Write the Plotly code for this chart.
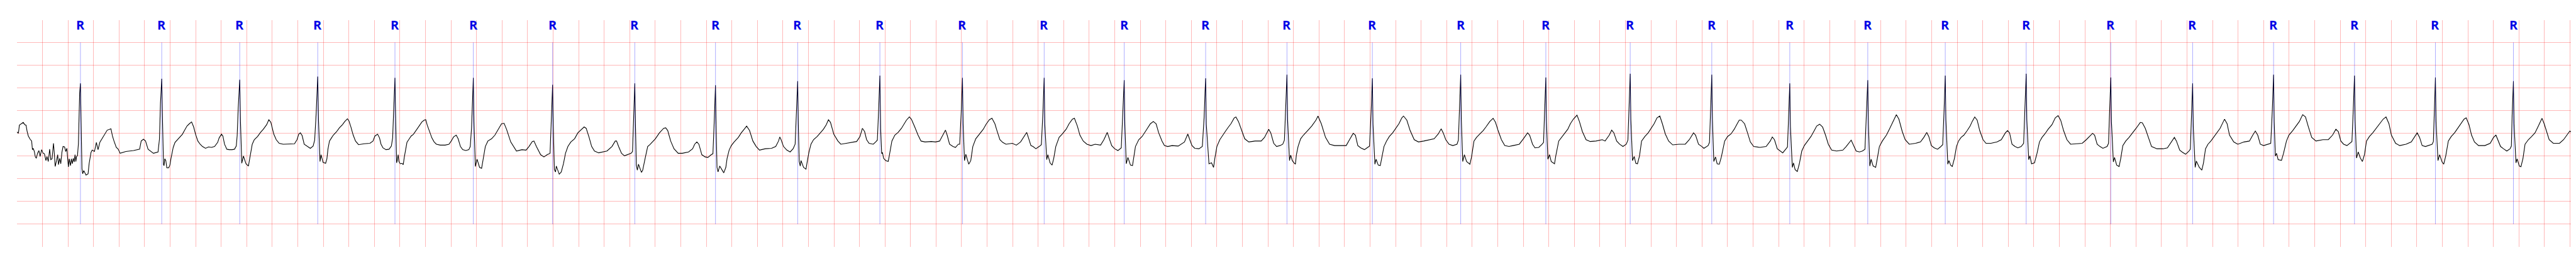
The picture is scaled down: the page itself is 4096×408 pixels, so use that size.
import plotly.graph_objects as go

# R-peak times (s) and amplitudes (mV)
r_times = [0.497, 1.134, 1.745, 2.356, 2.961, 3.575, 4.196, 4.840, 5.472, 6.116,
           6.760, 7.407, 8.047, 8.674, 9.312, 9.949, 10.618, 11.310, 11.977, 12.638,
           13.277, 13.888, 14.499, 15.106, 15.740, 16.403, 17.044, 17.678, 18.312, 18.946,
           19.557]
r_amps = [1.60, 1.70, 1.68, 1.75, 1.72, 1.72, 1.57, 1.60, 1.56, 1.65,
          1.77, 1.72, 1.72, 1.67, 1.71, 1.79, 1.71, 1.79, 1.73, 1.81,
          1.79, 1.60, 1.67, 1.77, 1.81, 1.73, 1.60, 1.79, 1.77, 1.73,
          1.65]

# trace before each R peak: (ms relative to the R peak, mV)
beat_pre = [
    [(-497, 0.53), (-490, 0.51), (-486, 0.50), (-478, 0.68), (-472, 0.69), (-460, 0.71),
     (-448, 0.74), (-436, 0.69), (-426, 0.68), (-418, 0.55), (-408, 0.44), (-394, 0.37),
     (-382, 0.33), (-376, 0.14), (-370, 0.17), (-361, 0.10), (-354, -0.01), (-346, -0.05),
     (-336, 0.06), (-325, 0.12), (-316, -0.01), (-304, 0.14), (-292, 0.06), (-282, 0.05),
     (-270, -0.10), (-262, -0.01), (-252, -0.12), (-241, 0.15), (-232, -0.08), (-222, -0.06),
     (-211, 0.28), (-205, 0.08), (-198, -0.23), (-187, -0.10), (-178, 0.03), (-172, -0.19),
     (-162, -0.05), (-154, -0.17), (-145, 0.08), (-136, 0.21), (-124, 0.20), (-115, 0.10),
     (-106, 0.17), (-100, -0.06), (-94, -0.24), (-88, -0.06), (-78, -0.21), (-71, -0.06),
     (-64, -0.17), (-56, -0.05), (-49, -0.13), (-42, 0.03), (-36, -0.12), (-30, -0.01),
     (-23, 0.01), (-16, 0.26), (-10, 0.98), (-6, 1.38)],
    [(-221, 0.12), (-173, 0.15), (-161, 0.33), (-143, 0.37), (-127, 0.33), (-107, 0.15),
     (-65, 0.06), (-29, 0.09), (-18, 0.37), (-10, 1.16), (-4, 1.60)],
    [(-221, 0.19), (-197, 0.21), (-173, 0.30), (-161, 0.40), (-143, 0.48), (-132, 0.44),
     (-119, 0.26), (-101, 0.15), (-83, 0.14), (-59, 0.14), (-41, 0.15), (-27, 0.22),
     (-20, 0.45), (-12, 1.05), (-6, 1.50)],
    [(-221, 0.26), (-182, 0.27), (-162, 0.36), (-149, 0.48), (-136, 0.51), (-122, 0.45),
     (-106, 0.26), (-81, 0.21), (-58, 0.17), (-36, 0.22), (-24, 0.35), (-12, 0.95), (-5, 1.45)],
    [(-196, 0.28), (-172, 0.33), (-157, 0.44), (-136, 0.48), (-121, 0.40), (-109, 0.26),
     (-94, 0.18), (-70, 0.14), (-46, 0.15), (-28, 0.22), (-18, 0.40), (-10, 1.00), (-5, 1.45)],
    [(-221, 0.24), (-191, 0.26), (-173, 0.33), (-155, 0.42), (-134, 0.46), (-119, 0.38),
     (-101, 0.21), (-83, 0.14), (-59, 0.12), (-35, 0.14), (-24, 0.21), (-14, 0.62), (-7, 1.34)],
    [(-240, 0.14), (-208, 0.13), (-185, 0.21), (-159, 0.32), (-146, 0.33), (-127, 0.21),
     (-94, 0.03), (-68, -0.02), (-42, 0.03), (-20, 0.06), (-10, 0.80), (-4, 1.35)],
    [(-218, 0.11), (-179, 0.21), (-153, 0.33), (-143, 0.33), (-127, 0.21), (-104, 0.06),
     (-81, 0.005), (-55, 0.03), (-29, 0.06), (-18, 0.10), (-10, 0.80), (-4, 1.35)],
    [(-260, 0.06), (-211, 0.09), (-179, 0.16), (-163, 0.26), (-146, 0.31), (-130, 0.26),
     (-107, 0.03), (-81, -0.02), (-59, -0.03), (-33, 0.03), (-20, 0.05), (-10, 0.75), (-4, 1.30)],
    [(-254, 0.16), (-205, 0.17), (-172, 0.21), (-150, 0.33), (-140, 0.42), (-130, 0.36),
     (-111, 0.21), (-85, 0.13), (-59, 0.09), (-36, 0.16), (-20, 0.26), (-10, 0.90), (-4, 1.40)],
    [(-263, 0.28), (-215, 0.31), (-182, 0.32), (-156, 0.43), (-137, 0.61), (-120, 0.54),
     (-104, 0.36), (-85, 0.28), (-52, 0.26), (-33, 0.31), (-20, 0.35), (-10, 1.00), (-4, 1.50)],
    [(-244, 0.32), (-211, 0.31), (-179, 0.33), (-153, 0.46), (-133, 0.57), (-120, 0.46),
     (-101, 0.26), (-75, 0.21), (-55, 0.19), (-33, 0.26), (-22, 0.26), (-10, 0.95), (-4, 1.45)],
    [(-250, 0.28), (-218, 0.24), (-185, 0.31), (-159, 0.43), (-137, 0.52), (-124, 0.41),
     (-104, 0.23), (-88, 0.21), (-65, 0.16), (-39, 0.21), (-22, 0.25), (-10, 0.95), (-4, 1.45)],
    [(-260, 0.23), (-228, 0.26), (-185, 0.24), (-159, 0.36), (-133, 0.52), (-120, 0.41),
     (-98, 0.23), (-75, 0.16), (-49, 0.12), (-23, 0.18), (-12, 0.85), (-5, 1.40)],
    [(-263, 0.23), (-215, 0.22), (-166, 0.31), (-140, 0.485), (-127, 0.38), (-107, 0.23),
     (-85, 0.17), (-52, 0.16), (-26, 0.21), (-12, 0.85), (-5, 1.40)],
    [(-250, 0.33), (-202, 0.33), (-176, 0.41), (-143, 0.59), (-127, 0.51), (-104, 0.28),
     (-81, 0.21), (-55, 0.23), (-33, 0.26), (-20, 0.35), (-10, 1.00), (-4, 1.50)],
    [(-296, 0.23), (-247, 0.23), (-205, 0.23), (-179, 0.36), (-150, 0.50), (-133, 0.46),
     (-114, 0.23), (-91, 0.18), (-62, 0.14), (-42, 0.18), (-22, 0.22), (-10, 0.95), (-4, 1.45)],
    [(-289, 0.33), (-247, 0.36), (-208, 0.38), (-176, 0.485), (-153, 0.60), (-137, 0.51),
     (-117, 0.36), (-91, 0.26), (-62, 0.23), (-29, 0.26), (-18, 0.35), (-10, 1.00), (-4, 1.50)],
    [(-289, 0.21), (-257, 0.23), (-208, 0.26), (-176, 0.38), (-143, 0.51), (-127, 0.46),
     (-104, 0.26), (-85, 0.18), (-55, 0.19), (-29, 0.26), (-18, 0.30), (-10, 0.95), (-4, 1.45)],
    [(-268, 0.33), (-219, 0.36), (-197, 0.33), (-164, 0.46), (-145, 0.57), (-128, 0.51),
     (-106, 0.33), (-83, 0.26), (-57, 0.21), (-31, 0.26), (-18, 0.35), (-10, 1.00), (-4, 1.50)],
    [(-257, 0.26), (-208, 0.26), (-176, 0.36), (-143, 0.51), (-127, 0.46), (-104, 0.26),
     (-78, 0.21), (-62, 0.17), (-29, 0.23), (-18, 0.30), (-10, 0.95), (-4, 1.50)],
    [(-234, 0.19), (-185, 0.21), (-153, 0.33), (-137, 0.42), (-120, 0.36), (-98, 0.16),
     (-72, 0.11), (-55, 0.07), (-29, 0.16), (-18, 0.20), (-10, 0.80), (-4, 1.35)],
    [(-195, 0.13), (-169, 0.21), (-130, 0.35), (-114, 0.26), (-91, 0.11), (-65, 0.09),
     (-42, 0.11), (-22, 0.15), (-10, 0.85), (-4, 1.40)],
    [(-233, 0.28), (-194, 0.31), (-168, 0.41), (-145, 0.52), (-129, 0.43), (-109, 0.23),
     (-86, 0.18), (-60, 0.15), (-38, 0.20), (-20, 0.25), (-10, 0.95), (-4, 1.50)],
    [(-228, 0.31), (-195, 0.36), (-163, 0.51), (-146, 0.56), (-130, 0.51), (-111, 0.26),
     (-88, 0.21), (-65, 0.18), (-39, 0.21), (-20, 0.28), (-10, 1.00), (-4, 1.50)],
    [(-273, 0.27), (-224, 0.28), (-192, 0.36), (-143, 0.50), (-127, 0.46), (-107, 0.26),
     (-85, 0.21), (-62, 0.17), (-29, 0.21), (-18, 0.28), (-10, 0.95), (-4, 1.45)],
    [(-231, 0.16), (-198, 0.18), (-166, 0.31), (-143, 0.41), (-127, 0.33), (-101, 0.13),
     (-78, 0.08), (-55, 0.04), (-29, 0.11), (-18, 0.15), (-10, 0.80), (-4, 1.35)],
    [(-231, 0.31), (-189, 0.33), (-163, 0.46), (-143, 0.55), (-124, 0.46), (-104, 0.26),
     (-78, 0.23), (-46, 0.26), (-22, 0.28), (-10, 1.00), (-4, 1.50)],
    [(-247, 0.36), (-205, 0.36), (-172, 0.46), (-146, 0.59), (-127, 0.54), (-107, 0.33),
     (-85, 0.26), (-59, 0.23), (-36, 0.28), (-20, 0.32), (-10, 1.00), (-4, 1.50)],
    [(-231, 0.26), (-189, 0.31), (-166, 0.41), (-143, 0.51), (-124, 0.41), (-104, 0.23),
     (-78, 0.21), (-52, 0.23), (-26, 0.26), (-16, 0.32), (-10, 0.95), (-4, 1.45)],
    [(-224, 0.23), (-182, 0.28), (-156, 0.41), (-137, 0.46), (-120, 0.33), (-101, 0.21),
     (-78, 0.16), (-52, 0.11), (-26, 0.16), (-16, 0.22), (-10, 0.90), (-4, 1.40)],
]

# trace after each R peak: (ms relative to the R peak, mV)
beat_post = [
    [(5, 0.80), (12, -0.28), (18, -0.39), (26, -0.32), (44, -0.42), (60, -0.39), (68, -0.17),
     (83, 0.08), (92, 0.13), (110, 0.10), (125, 0.30), (138, 0.14), (152, 0.30), (170, 0.39),
     (188, 0.48), (210, 0.57), (239, 0.60), (251, 0.44), (263, 0.33), (281, 0.19), (296, 0.15),
     (311, 0.06), (356, 0.10)],
    [(6, 0.80), (14, -0.19), (18, -0.21), (24, -0.06), (32, -0.10), (40, -0.26), (54, -0.26),
     (64, -0.20), (72, -0.06), (78, 0.01), (90, 0.19), (104, 0.30), (120, 0.35), (138, 0.40),
     (162, 0.48), (180, 0.57), (198, 0.66), (216, 0.71), (234, 0.75), (250, 0.64), (265, 0.48),
     (283, 0.33), (301, 0.26), (319, 0.21), (343, 0.17), (367, 0.20)],
    [(6, 0.75), (16, -0.16), (29, 0.00), (49, -0.17), (68, -0.22), (81, 0.00), (98, 0.26),
     (114, 0.36), (140, 0.43), (163, 0.52), (185, 0.59), (211, 0.69), (228, 0.80), (244, 0.74),
     (267, 0.48), (286, 0.36), (309, 0.28), (341, 0.26)],
    [(6, 0.80), (14, 0.03), (18, -0.12), (26, 0.03), (32, -0.05), (42, -0.14), (62, -0.16),
     (72, -0.06), (80, 0.15), (92, 0.33), (108, 0.40), (122, 0.46), (146, 0.53), (170, 0.62),
     (194, 0.69), (212, 0.76), (233, 0.82), (245, 0.77), (260, 0.64), (278, 0.46), (296, 0.33),
     (320, 0.25), (362, 0.27)],
    [(6, 0.75), (13, -0.15), (18, -0.10), (25, 0.03), (31, -0.12), (41, -0.17), (55, -0.16),
     (65, -0.19), (73, -0.03), (85, 0.15), (94, 0.30), (110, 0.37), (127, 0.44), (145, 0.48),
     (163, 0.55), (187, 0.64), (211, 0.75), (229, 0.79), (241, 0.80), (253, 0.68), (271, 0.55),
     (289, 0.40), (307, 0.31), (325, 0.26), (355, 0.24)],
    [(5, 0.75), (16, -0.23), (29, -0.07), (49, -0.25), (65, -0.27), (78, -0.05), (94, 0.21),
     (114, 0.33), (143, 0.38), (169, 0.46), (195, 0.59), (221, 0.71), (241, 0.72), (260, 0.59),
     (293, 0.31), (315, 0.21), (338, 0.11)],
    [(5, 0.70), (14, -0.30), (23, -0.35), (29, -0.22), (52, -0.40), (68, -0.35), (85, -0.17),
     (101, 0.06), (120, 0.21), (143, 0.31), (172, 0.38), (198, 0.51), (247, 0.64), (263, 0.61),
     (286, 0.41), (306, 0.21), (328, 0.11), (361, 0.07)],
    [(5, 0.70), (12, -0.20), (20, -0.31), (29, -0.18), (52, -0.36), (62, -0.31), (81, -0.05),
     (101, 0.21), (118, 0.25), (138, 0.31), (161, 0.38), (193, 0.51), (226, 0.61), (242, 0.62),
     (258, 0.56), (281, 0.33), (307, 0.16), (340, 0.06)],
    [(5, 0.65), (12, -0.25), (20, -0.35), (33, -0.22), (65, -0.37), (81, -0.25), (91, -0.05),
     (107, 0.13), (124, 0.23), (146, 0.31), (179, 0.41), (202, 0.51), (228, 0.60), (244, 0.66),
     (267, 0.56), (293, 0.33), (319, 0.21), (345, 0.13)],
    [(5, 0.70), (12, -0.12), (20, -0.22), (26, -0.10), (46, -0.25), (65, -0.29), (75, -0.12),
     (88, 0.08), (104, 0.26), (124, 0.36), (153, 0.43), (176, 0.51), (202, 0.59), (224, 0.69),
     (241, 0.80), (257, 0.74), (283, 0.48), (315, 0.33), (338, 0.26)],
    [(6, 0.60), (14, 0.05), (20, 0.08), (29, -0.05), (46, -0.10), (65, -0.12), (72, -0.02),
     (94, 0.33), (117, 0.46), (143, 0.52), (169, 0.61), (189, 0.71), (208, 0.79), (231, 0.86),
     (247, 0.81), (273, 0.64), (299, 0.46), (322, 0.33), (354, 0.31)],
    [(5, 0.70), (16, -0.10), (26, 0.04), (49, -0.18), (65, -0.10), (81, 0.21), (104, 0.38),
     (137, 0.50), (163, 0.59), (185, 0.70), (211, 0.80), (231, 0.83), (254, 0.71), (270, 0.56),
     (293, 0.36), (315, 0.30), (341, 0.26)],
    [(5, 0.70), (20, -0.08), (29, 0.03), (46, -0.15), (62, -0.20), (75, -0.05), (91, 0.21),
     (117, 0.41), (140, 0.48), (172, 0.59), (195, 0.71), (221, 0.81), (237, 0.83), (260, 0.66),
     (280, 0.46), (306, 0.33), (335, 0.26)],
    [(5, 0.70), (16, -0.17), (29, -0.03), (49, -0.20), (65, -0.21), (75, -0.05), (88, 0.21),
     (114, 0.36), (140, 0.43), (166, 0.54), (189, 0.64), (205, 0.71), (228, 0.76), (250, 0.71),
     (270, 0.51), (296, 0.33), (315, 0.23), (341, 0.21)],
    [(5, 0.70), (20, 0.005), (26, -0.17), (46, -0.15), (62, -0.25), (72, -0.05), (88, 0.21),
     (111, 0.36), (137, 0.46), (159, 0.56), (179, 0.64), (198, 0.71), (224, 0.84), (237, 0.86),
     (257, 0.76), (283, 0.56), (306, 0.38), (338, 0.31)],
    [(5, 0.80), (20, -0.10), (29, 0.02), (42, -0.10), (55, -0.15), (66, -0.18), (74, 0.03),
     (87, 0.21), (107, 0.38), (129, 0.46), (162, 0.56), (194, 0.66), (227, 0.79), (243, 0.88),
     (269, 0.71), (302, 0.41), (334, 0.26)],
    [(5, 0.70), (20, -0.18), (29, -0.07), (46, -0.20), (62, -0.21), (72, -0.05), (91, 0.21),
     (111, 0.33), (133, 0.43), (159, 0.51), (182, 0.61), (208, 0.71), (231, 0.84), (244, 0.88),
     (270, 0.79), (296, 0.56), (328, 0.36), (361, 0.31)],
    [(5, 0.80), (16, -0.12), (29, 0.03), (46, -0.12), (72, -0.18), (85, -0.02), (104, 0.33),
     (124, 0.41), (150, 0.485), (176, 0.56), (198, 0.64), (228, 0.76), (254, 0.83), (273, 0.74),
     (293, 0.56), (319, 0.36), (345, 0.23)],
    [(5, 0.75), (16, -0.07), (29, 0.03), (42, -0.12), (68, -0.17), (78, 0.005), (101, 0.33),
     (127, 0.43), (150, 0.51), (172, 0.59), (192, 0.71), (215, 0.81), (244, 0.90), (263, 0.76),
     (286, 0.54), (315, 0.36), (348, 0.32)],
    [(5, 0.80), (18, -0.10), (31, -0.01), (44, -0.16), (57, -0.17), (73, 0.005), (89, 0.33),
     (115, 0.43), (141, 0.51), (161, 0.59), (187, 0.71), (210, 0.84), (232, 0.88), (252, 0.71),
     (275, 0.485), (301, 0.33), (333, 0.245)],
    [(5, 0.80), (16, -0.12), (29, -0.02), (42, -0.17), (59, -0.18), (75, -0.02), (101, 0.33),
     (124, 0.43), (150, 0.485), (176, 0.59), (195, 0.69), (215, 0.79), (231, 0.79), (257, 0.71),
     (280, 0.51), (302, 0.31), (328, 0.21)],
    [(5, 0.65), (20, -0.25), (29, -0.15), (42, -0.30), (59, -0.34), (75, -0.17), (94, 0.11),
     (114, 0.23), (140, 0.33), (166, 0.43), (192, 0.56), (211, 0.66), (234, 0.70), (257, 0.64),
     (280, 0.46), (302, 0.26), (328, 0.13), (367, 0.11)],
    [(5, 0.70), (16, -0.22), (26, -0.07), (42, -0.22), (62, -0.25), (75, -0.05), (91, 0.21),
     (114, 0.33), (146, 0.46), (169, 0.59), (189, 0.71), (211, 0.84), (224, 0.91), (244, 0.81),
     (270, 0.54), (293, 0.36), (325, 0.26)],
    [(5, 0.80), (20, -0.18), (29, -0.10), (42, -0.20), (55, -0.23), (72, -0.05), (88, 0.21),
     (104, 0.33), (124, 0.41), (146, 0.46), (172, 0.56), (195, 0.66), (211, 0.76), (231, 0.86),
     (250, 0.79), (270, 0.56), (296, 0.36), (319, 0.28), (358, 0.28)],
    [(5, 0.80), (20, -0.08), (29, 0.005), (42, -0.17), (65, -0.15), (85, 0.06), (104, 0.31),
     (124, 0.41), (146, 0.485), (172, 0.59), (202, 0.69), (228, 0.84), (250, 0.89), (270, 0.79),
     (293, 0.56), (319, 0.36), (348, 0.26)],
    [(5, 0.75), (20, -0.13), (29, -0.03), (46, -0.20), (65, -0.23), (78, -0.05), (94, 0.23),
     (117, 0.33), (143, 0.41), (172, 0.51), (198, 0.61), (231, 0.74), (247, 0.73), (270, 0.61),
     (296, 0.41), (319, 0.21), (361, 0.16)],
    [(5, 0.65), (20, -0.25), (29, -0.11), (52, -0.25), (72, -0.31), (85, -0.15), (101, 0.16),
     (120, 0.26), (143, 0.33), (169, 0.43), (192, 0.51), (215, 0.61), (241, 0.76), (250, 0.81),
     (270, 0.71), (289, 0.46), (322, 0.31), (354, 0.26)],
    [(5, 0.75), (14, 0.00), (23, 0.06), (36, -0.08), (62, -0.095), (78, 0.06), (101, 0.33),
     (120, 0.46), (150, 0.56), (176, 0.66), (202, 0.76), (228, 0.91), (250, 0.86), (273, 0.64),
     (299, 0.41), (332, 0.33)],
    [(5, 0.80), (16, -0.045), (29, 0.09), (46, -0.045), (62, -0.12), (78, 0.03), (94, 0.33),
     (117, 0.43), (143, 0.51), (169, 0.61), (192, 0.69), (224, 0.81), (247, 0.86), (270, 0.71),
     (289, 0.46), (322, 0.28), (354, 0.23)],
    [(5, 0.75), (20, -0.10), (33, 0.03), (52, -0.13), (65, -0.18), (81, 0.005), (101, 0.33),
     (124, 0.43), (150, 0.51), (176, 0.61), (202, 0.71), (224, 0.81), (241, 0.84), (263, 0.69),
     (283, 0.46), (306, 0.31), (338, 0.23)],
    [(5, 0.70), (20, -0.15), (29, -0.06), (46, -0.22), (59, -0.235), (75, -0.05), (91, 0.26),
     (117, 0.36), (143, 0.43), (169, 0.51), (192, 0.64), (208, 0.74), (224, 0.83), (241, 0.71),
     (260, 0.54), (280, 0.36), (312, 0.28), (361, 0.28), (393, 0.36), (419, 0.46), (442, 0.55),
     (462, 0.51), (481, 0.33), (500, 0.26)],
]

r_label = "R"

# assemble the trace from the read values
pts = []
for rt, ra, pre, post in zip(r_times, r_amps, beat_pre, beat_post):
    for ms, mv in pre:
        pts.append((rt + ms / 1000.0, mv))
    pts.append((rt, ra))
    for ms, mv in post:
        pts.append((rt + ms / 1000.0, mv))
pts.sort(key=lambda p: p[0])
ecg_t = [p[0] for p in pts]
ecg_mv = [p[1] for p in pts]

fig = go.Figure()
fig.add_trace(go.Scatter(x=ecg_t, y=ecg_mv, mode="lines",
                         line=dict(color="black", width=1.1), hoverinfo="skip"))

for rt in r_times:
    fig.add_shape(type="line", xref="x", yref="y", x0=rt, x1=rt, y0=-1.5, y1=2.5,
                  line=dict(color="rgba(0,0,255,0.55)", width=0.6), layer="above")
    fig.add_annotation(x=rt, y=2.89, xref="x", yref="y", text=r_label, showarrow=False,
                       font=dict(family="Open Sans", size=20, color="#0000e6", weight="bold"),
                       xanchor="center", yanchor="middle")

grid_col = "rgba(255,0,0,0.28)"
fig.update_layout(
    width=4096, height=408,
    margin=dict(l=18.7, r=4.9, t=24, b=23.6),
    plot_bgcolor="white", paper_bgcolor="white",
    showlegend=False,
    xaxis=dict(range=[0, 20.062], tick0=0, dtick=0.2, showgrid=True, gridcolor=grid_col,
               gridwidth=1, zeroline=False, showline=False, showticklabels=False, ticks=""),
    yaxis=dict(range=[-2.0, 2.99], tick0=-2.0, dtick=0.5, showgrid=True, gridcolor=grid_col,
               gridwidth=1, zeroline=False, showline=False, showticklabels=False, ticks=""),
)

fig.write_html("out.html")
